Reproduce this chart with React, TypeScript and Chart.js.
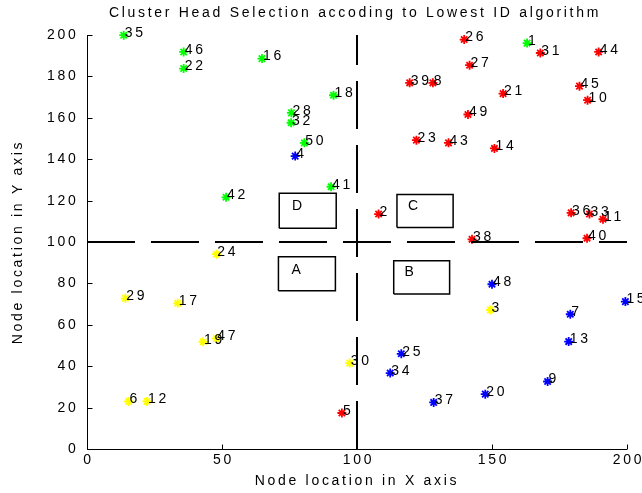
import React, { useEffect, useRef } from "react";
import { Chart, registerables } from "chart.js";

Chart.register(...registerables);

const titleText = "Cluster Head Selection accoding to Lowest ID algorithm";
const xTitle = "Node location in X axis";
const yTitle = "Node location in Y axis";

const xTicks = [0, 50, 100, 150, 200];
const yTicks = [0, 20, 40, 60, 80, 100, 120, 140, 160, 180, 200];

// green cluster
const greenIds = [35, 46, 22, 16, 18, 28, 32, 50, 41, 42, 1];
const greenX = [13.6, 35.8, 35.8, 64.8, 91.3, 75.7, 75.6, 80.5, 90.4, 51.5, 163];
const greenY = [199.9, 191.8, 183.8, 188.6, 170.9, 162.4, 157.6, 147.9, 126.7, 121.6, 196.1];

// red cluster
const redIds = [26, 31, 44, 27, 39, 8, 21, 45, 10, 49, 23, 43, 14, 2, 36, 33, 11, 38, 40, 5];
const redX = [139.7, 167.9, 189.5, 141.7, 119.5, 128.1, 154.1, 182.4, 185.4, 141.1, 122, 133.9, 150.9, 108, 179.3, 186.1, 191.1, 142.6, 185.2, 94.4];
const redY = [197.8, 191.3, 191.8, 185.4, 176.9, 176.9, 171.7, 175.3, 168.5, 161.6, 149.2, 147.9, 145.2, 113.5, 114.1, 113.5, 111, 101.3, 101.8, 17.4];

// blue cluster
const blueIds = [4, 48, 15, 7, 13, 25, 34, 9, 20, 37];
const blueX = [77.1, 150, 199.4, 179, 178.4, 116.4, 112.3, 170.6, 147.5, 128.4];
const blueY = [141.5, 79.6, 71.2, 65.1, 51.9, 46, 36.7, 32.6, 26.5, 22.5];

// yellow cluster
const yellowIds = [3, 30, 24, 29, 17, 19, 47, 6, 12];
const yellowX = [149.4, 97.3, 47.9, 14.2, 33.6, 43, 47.9, 15.4, 22.2];
const yellowY = [67.2, 41.5, 94.1, 72.8, 70.4, 51.8, 53.4, 23, 23];

// quadrant boxes
const boxLabels = ["A", "B", "C", "D"];
const boxX0 = [70.9, 113.6, 114.8, 71.2];
const boxX1 = [92, 134.3, 135.6, 92.3];
const boxY0 = [76.4, 74.9, 107, 106.7];
const boxY1 = [92.9, 91, 123, 123.6];
const boxLetterX = [75.7, 117.6, 118.9, 75.9];
const boxLetterY = [86.5, 85.4, 117.5, 117.5];

// dividing lines
const hLineY = 100;
const vLineX = 100;
const axisMin = 0;
const axisMax = 200;

const FONT = '14px "Liberation Sans", Arial, Helvetica, sans-serif';
const SPACING = "2.7px";

type Group = { ids: number[]; xs: number[]; ys: number[]; color: string };
const groups: Group[] = [
  { ids: greenIds, xs: greenX, ys: greenY, color: "#00ff00" },
  { ids: redIds, xs: redX, ys: redY, color: "#ff0000" },
  { ids: blueIds, xs: blueX, ys: blueY, color: "#0000ff" },
  { ids: yellowIds, xs: yellowX, ys: yellowY, color: "#ffff00" },
];

const decorPlugin = {
  id: "matlabDecor",
  afterDraw(chart: any) {
    const { ctx, scales, chartArea } = chart;
    const xs = scales.x;
    const ys = scales.y;
    ctx.save();
    ctx.font = FONT;
    (ctx as any).letterSpacing = SPACING;
    ctx.fillStyle = "#000";
    ctx.strokeStyle = "#000";
    ctx.lineWidth = 1;

    const x0 = Math.round(xs.getPixelForValue(axisMin)) + 0.5;
    const y0 = Math.round(ys.getPixelForValue(axisMin)) + 0.5;
    const x200 = xs.getPixelForValue(axisMax);
    const y200 = ys.getPixelForValue(axisMax);

    // axis lines
    ctx.beginPath();
    ctx.moveTo(x0, y200);
    ctx.lineTo(x0, y0);
    ctx.lineTo(x200, y0);
    ctx.stroke();

    // y ticks
    ctx.textAlign = "right";
    ctx.textBaseline = "middle";
    yTicks.forEach((t) => {
      const py = Math.round(ys.getPixelForValue(t)) + 0.5;
      ctx.beginPath();
      ctx.moveTo(x0, py);
      ctx.lineTo(x0 + 5, py);
      ctx.stroke();
      ctx.fillText(String(t), x0 - 9, py);
    });

    // x ticks
    ctx.textAlign = "center";
    ctx.textBaseline = "top";
    xTicks.forEach((t) => {
      const px = Math.round(xs.getPixelForValue(t)) + 0.5;
      ctx.beginPath();
      ctx.moveTo(px, y0);
      ctx.lineTo(px, y0 - 5);
      ctx.stroke();
      ctx.fillText(String(t), px + 1, y0 + 4);
    });

    // axis titles
    const cx = (chartArea.left + chartArea.right) / 2;
    const cy = (chartArea.top + chartArea.bottom) / 2;
    ctx.textAlign = "center";
    ctx.textBaseline = "middle";
    ctx.fillText(xTitle, cx, 481);
    ctx.fillText(titleText, cx - 2, 13);
    ctx.save();
    ctx.translate(18, cy);
    ctx.rotate(-Math.PI / 2);
    ctx.fillText(yTitle, 0, 0);
    ctx.restore();

    // box letters
    ctx.textAlign = "left";
    ctx.textBaseline = "middle";
    boxLabels.forEach((l, i) => {
      ctx.fillText(l, xs.getPixelForValue(boxLetterX[i]), ys.getPixelForValue(boxLetterY[i]));
    });

    // node labels
    groups.forEach((g) => {
      g.ids.forEach((id, i) => {
        const px = xs.getPixelForValue(g.xs[i]);
        const py = ys.getPixelForValue(g.ys[i]);
        ctx.fillText(String(id), px + 1, py - 2);
      });
    });

    ctx.restore();
  },
};

export default function App() {
  const ref = useRef<HTMLCanvasElement | null>(null);

  useEffect(() => {
    if (!ref.current) return;
    const datasets: any[] = [];

    datasets.push({
      type: "line",
      data: [
        { x: axisMin, y: hLineY },
        { x: axisMax, y: hLineY },
      ],
      borderColor: "#000",
      borderWidth: 2,
      borderDash: [48, 16],
      pointRadius: 0,
      showLine: true,
      fill: false,
      clip: false,
    });
    datasets.push({
      type: "line",
      data: [
        { x: vLineX, y: axisMin },
        { x: vLineX, y: axisMax },
      ],
      borderColor: "#000",
      borderWidth: 2,
      borderDash: [48, 16],
      pointRadius: 0,
      showLine: true,
      fill: false,
      clip: false,
    });

    boxLabels.forEach((_, i) => {
      datasets.push({
        type: "line",
        data: [
          { x: boxX0[i], y: boxY0[i] },
          { x: boxX1[i], y: boxY0[i] },
          { x: boxX1[i], y: boxY1[i] },
          { x: boxX0[i], y: boxY1[i] },
          { x: boxX0[i], y: boxY0[i] },
        ],
        borderColor: "#000",
        borderWidth: 1.5,
        pointRadius: 0,
        showLine: true,
        fill: false,
        tension: 0,
        clip: false,
      });
    });

    groups.forEach((g) => {
      datasets.push({
        type: "scatter",
        data: g.xs.map((x, i) => ({ x, y: g.ys[i] })),
        pointStyle: "star",
        pointRadius: 4.5,
        pointBorderWidth: 1.8,
        borderWidth: 1.8,
        borderColor: g.color,
        backgroundColor: g.color,
        showLine: false,
        clip: false,
      });
    });

    const chart = new Chart(ref.current, {
      type: "scatter",
      data: { datasets },
      options: {
        responsive: false,
        animation: false,
        devicePixelRatio: 1,
        layout: { padding: { left: 87, right: 15, top: 35, bottom: 44 } },
        plugins: {
          legend: { display: false },
          tooltip: { enabled: false },
          title: { display: false },
        },
        scales: {
          x: { type: "linear", min: axisMin, max: axisMax, display: false },
          y: { type: "linear", min: axisMin, max: axisMax, display: false },
        },
      },
      plugins: [decorPlugin],
    } as any);

    return () => chart.destroy();
  }, []);

  return (
    <div style={{ position: "fixed", left: 0, top: 0, width: 642, height: 493, background: "#fff" }}>
      <canvas ref={ref} width={642} height={493} style={{ width: 642, height: 493 }} />
    </div>
  );
}
